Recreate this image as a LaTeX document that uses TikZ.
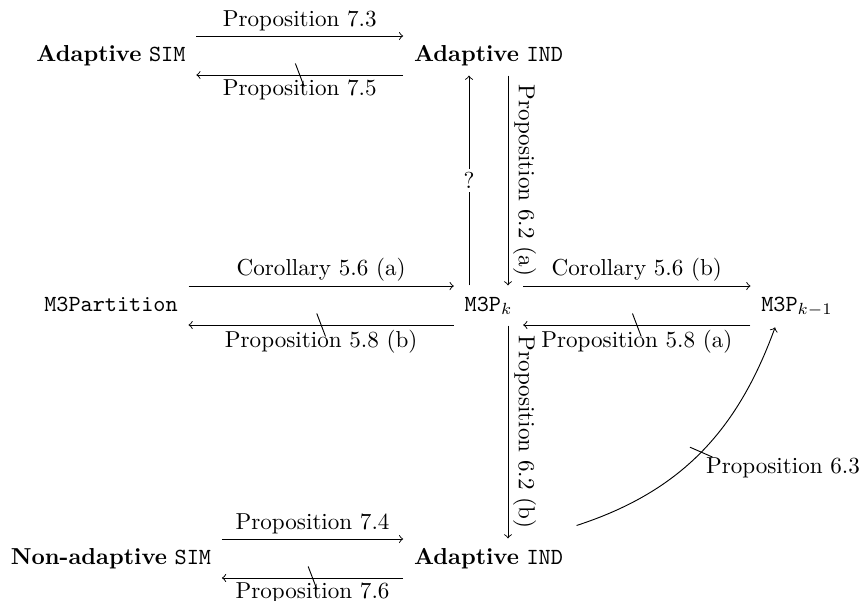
\documentclass[tikz,border=0pt]{standalone}
\usetikzlibrary{decorations.markings}
\tikzset{
  obj/.style={inner xsep=4.5pt, inner ysep=4pt, text height=7pt, text depth=2pt},
  lab/.style={inner sep=2pt},
  qmark/.style={fill=white, inner sep=1.5pt},
  slash/.style={postaction={decorate, decoration={markings,
     mark=at position 0.5 with {\draw[-] (1.9pt,-5pt) -- (-1.9pt,5pt);}}}},
  arr/.style={->, line width=0.4pt}
}
\begin{document}
\begin{tikzpicture}[x=1pt, y=1pt]
\useasboundingbox (0,0) rectangle (374.46,-260.17);
% nodes
\node[obj] (asim) at (48.05,-24.03) {\textbf{Adaptive} \texttt{SIM}};
\node[obj] (tind) at (211.47,-24.03) {\textbf{Adaptive} \texttt{IND}};
\node[obj] (part) at (48.05,-132.25) {\texttt{M3Partition}};
\node[obj] (mk) at (211.47,-132.25) {\texttt{M3P}$_k$};
\node[obj] (mkm) at (345.02,-132.25) {\texttt{M3P}$_{k-1}$};
\node[obj] (nsim) at (48.05,-241.77) {\textbf{Non-adaptive} \texttt{SIM}};
\node[obj] (bind) at (211.47,-241.77) {\textbf{Adaptive} \texttt{IND}};
% top row
\draw[arr] ([yshift=8.44pt]asim.east) -- node[lab, above]{Proposition 7.3} ([yshift=8.44pt]tind.west);
\draw[arr, slash] ([yshift=-8.44pt]tind.west) -- node[lab, below]{Proposition 7.5} ([yshift=-8.44pt]asim.east);
% middle row
\draw[arr] ([yshift=8.44pt]part.east) -- node[lab, above]{Corollary 5.6 (a)} ([yshift=8.44pt]mk.west);
\draw[arr, slash] ([yshift=-8.44pt]mk.west) -- node[lab, below]{Proposition 5.8 (b)} ([yshift=-8.44pt]part.east);
\draw[arr] ([yshift=8.44pt]mk.east) -- node[lab, above]{Corollary 5.6 (b)} ([yshift=8.44pt]mkm.west);
\draw[arr, slash] ([yshift=-8.44pt]mkm.west) -- node[lab, below]{Proposition 5.8 (a)} ([yshift=-8.44pt]mk.east);
% verticals
\draw[arr] ([xshift=-8.44pt]mk.north) -- node[qmark]{?} ([xshift=-8.44pt]tind.south);
\draw[arr] ([xshift=8.44pt]tind.south) -- node[lab, sloped, above]{Proposition 6.2 (a)} ([xshift=8.44pt]mk.north);
\draw[arr] ([xshift=8.44pt]mk.south) -- node[lab, sloped, above]{Proposition 6.2 (b)} ([xshift=8.44pt]bind.north);
% bottom row
\draw[arr] ([yshift=8.44pt]nsim.east) -- node[lab, above]{Proposition 7.4} ([yshift=8.44pt]bind.west);
\draw[arr, slash] ([yshift=-8.44pt]bind.west) -- node[lab, below]{Proposition 7.6} ([yshift=-8.44pt]nsim.east);
% curve
\draw[arr, slash] ([shift={(1.2pt,5.6pt)}]bind.north east) to[out=18, in=250]
   node[lab, anchor=north west]{Proposition 6.3} ([shift={(-9.5pt,-0.8pt)}]mkm.south);
\end{tikzpicture}
\end{document}
